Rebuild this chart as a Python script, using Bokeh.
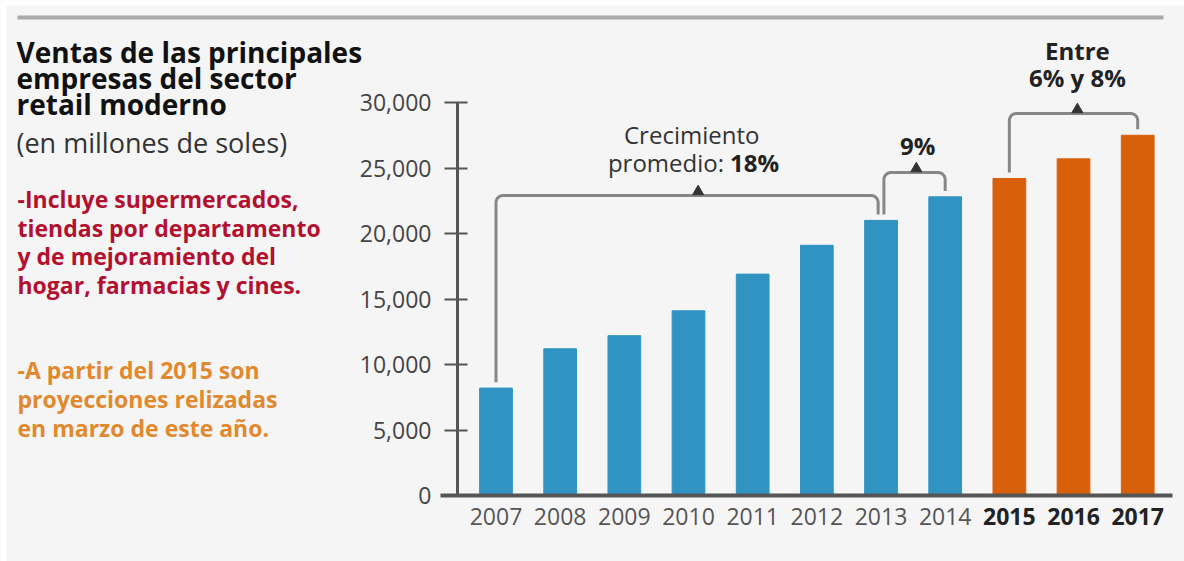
import numpy as np
from bokeh.plotting import figure
from bokeh.models import (Range1d, FixedTicker, Label, BoxAnnotation,
                          NumeralTickFormatter, ColumnDataSource)
from bokeh.embed import file_html
from bokeh.resources import INLINE

# ---------------- data ----------------
years = [2007, 2008, 2009, 2010, 2011, 2012, 2013, 2014, 2015, 2016, 2017]
sales = [8200, 11200, 12200, 14100, 16900, 19100, 21000, 22800, 24200, 25700, 27500]
first_projection = 2015
y_ticks = [0, 5000, 10000, 15000, 20000, 25000, 30000]

title_lines = ["Ventas de las principales", "empresas del sector", "retail moderno"]
subtitle = "(en millones de soles)"
note_red = ["-Incluye supermercados,", "tiendas por departamento",
            "y de mejoramiento del", "hogar, farmacias y cines."]
note_orange = ["-A partir del 2015 son", "proyecciones relizadas",
               "en marzo de este año."]

# ---------------- layout (canvas pixels) ----------------
W, H = 1184, 561
Y0_PX = 495            # canvas y of value 0
X2007_PX = 495.5       # canvas x of the 2007 bar centre
YAXIS_PX = 457         # canvas x of the value axis
XAXIS_L, XAXIS_R = 440, 1172
PX_PER_YEAR = 64.17
PX_PER_UNIT = 393 / 30000

def cx2d(px):
    return 2007 + (px - X2007_PX) / PX_PER_YEAR

def cy2d(py):
    return (Y0_PX - py) / PX_PER_UNIT

FONT = "Open Sans"
BG = "#f5f5f5"
BLUE = "#3193c2"
ORANGE = "#d8600a"
RED = "#b3102f"
ORANGE_TXT = "#e0892e"
GRAY_LINE = "#878787"

p = figure(width=W, height=H, x_range=Range1d(cx2d(0), cx2d(W)),
           y_range=Range1d(cy2d(H), cy2d(0)), output_backend="svg",
           toolbar_location=None, min_border=0, min_border_left=0,
           min_border_right=0, min_border_top=0, min_border_bottom=0)
p.background_fill_color = BG
p.border_fill_color = BG
p.outline_line_color = None
p.grid.visible = False

# white page margins
p.add_layout(BoxAnnotation(left=0, right=6, bottom=0, top=H, left_units="screen",
                           right_units="screen", top_units="screen", bottom_units="screen",
                           fill_color="white", fill_alpha=1, line_color=None))
p.add_layout(BoxAnnotation(left=0, right=W, bottom=H - 5, top=H, left_units="screen",
                           right_units="screen", top_units="screen", bottom_units="screen",
                           fill_color="white", fill_alpha=1, line_color=None))

# bars
colors = [ORANGE if y >= first_projection else BLUE for y in years]
src = ColumnDataSource(dict(x=years, top=sales, color=colors))
p.vbar(x="x", top="top", width=0.51, color="color", source=src)

# y axis
ya = p.yaxis[0]
ya.fixed_location = cx2d(YAXIS_PX)
ya.ticker = FixedTicker(ticks=y_ticks)
ya.formatter = NumeralTickFormatter(format="0,0")
ya.bounds = (0, 30000)
ya.axis_line_width = 3
ya.axis_line_color = "#555555"
ya.major_tick_line_color = "#555555"
ya.major_tick_line_width = 2
ya.major_tick_in = 10
ya.major_tick_out = 13
ya.minor_tick_line_color = None
ya.major_label_standoff = 13
ya.major_label_text_font = FONT
ya.major_label_text_font_size = "23px"
ya.major_label_text_color = "#444444"

# x axis
xa = p.xaxis[0]
xa.fixed_location = 0
xa.bounds = (cx2d(XAXIS_L), cx2d(XAXIS_R))
xa.ticker = FixedTicker(ticks=[y for y in years if y < first_projection])
xa.axis_line_width = 4
xa.axis_line_color = "#555555"
xa.major_tick_line_color = None
xa.minor_tick_line_color = None
xa.major_tick_in = 0
xa.major_tick_out = 0
xa.major_label_standoff = 12
xa.major_label_text_font = FONT
xa.major_label_text_font_size = "23px"
xa.major_label_text_color = "#555555"

for yr in years:
    if yr >= first_projection:
        p.add_layout(Label(x=yr, y=0, y_offset=-12, text=str(yr),
                           text_font=FONT, text_font_size="23px",
                           text_font_style="bold", text_color="#222222",
                           text_align="center", text_baseline="top"))

# ---------------- brackets ----------------
def val(yr):
    return sales[years.index(yr)]

GAP = 450
rx = 7 / PX_PER_YEAR
ry = 7 / PX_PER_UNIT

def bracket(x0, x1, ytop, yb0, yb1):
    t1 = np.linspace(np.pi, np.pi / 2, 8)
    t2 = np.linspace(np.pi / 2, 0, 8)
    xs = [x0] + list(x0 + rx + rx * np.cos(t1)) + list(x1 - rx + rx * np.cos(t2)) + [x1]
    ys = [yb0] + list(ytop - ry + ry * np.sin(t1)) + list(ytop - ry + ry * np.sin(t2)) + [yb1]
    return xs, ys

brackets = [
    (2007, 2013 - 0.045, 22900, val(2007) + GAP, val(2013) + GAP),
    (2013 + 0.045, 2014, 24650, val(2013) + GAP, val(2014) + GAP),
    (2015, 2017, 29160, val(2015) + GAP, val(2017) + GAP),
]
tri_x = [2010.15, 2013.55, 2016.06]
for (x0, x1, yt, b0, b1), tx in zip(brackets, tri_x):
    xs, ys = bracket(x0, x1, yt, b0, b1)
    p.line(xs, ys, line_color=GRAY_LINE, line_width=3)
    p.scatter([tx], [yt + 4 / PX_PER_UNIT], marker="triangle", size=11,
              color="#333333")

def dlabel(x, py, text, bold=False, size="24px", align="center", xoff=0,
           color="#222222"):
    p.add_layout(Label(x=x, y=cy2d(py), text=text, text_font=FONT,
                       text_font_size=size,
                       text_font_style="bold" if bold else "normal",
                       text_color=color, text_align=align,
                       text_baseline="middle", x_offset=xoff))

dlabel(2010.05, 134, "Crecimiento", color="#333333")
dlabel(2010.6, 162, "promedio:", align="right", xoff=-3, color="#333333")
dlabel(2010.6, 162, "18%", bold=True, align="left", xoff=3)
dlabel(2013.57, 145, "9%", bold=True)
dlabel(2016.06, 50, "Entre", bold=True)
dlabel(2016.06, 77, "6% y 8%", bold=True)

# ---------------- left texts (screen units, frame == canvas) ----------------
def slabel(px, py, text, size, color, bold=False):
    p.add_layout(Label(x=px, y=H - py, x_units="screen", y_units="screen",
                       text=text, text_font=FONT, text_font_size=size,
                       text_font_style="bold" if bold else "normal",
                       text_color=color, text_align="left",
                       text_baseline="alphabetic"))

for i, t in enumerate(title_lines):
    slabel(16, 51.5 + i * 26, t, "28px", "#111111", bold=True)
slabel(16, 141.5, subtitle, "27px", "#333333")
for i, t in enumerate(note_red):
    slabel(17, 198.5 + i * 28.7, t, "23px", RED, bold=True)
for i, t in enumerate(note_orange):
    slabel(17, 369.5 + i * 29, t, "23px", ORANGE_TXT, bold=True)

# top rule
p.add_layout(BoxAnnotation(left=17, right=1163, top=H - 15, bottom=H - 19,
                           left_units="screen", right_units="screen",
                           top_units="screen", bottom_units="screen",
                           fill_color="#aaaaaa", fill_alpha=1, line_color=None))

open("out.html", "w").write(file_html(p, INLINE))
